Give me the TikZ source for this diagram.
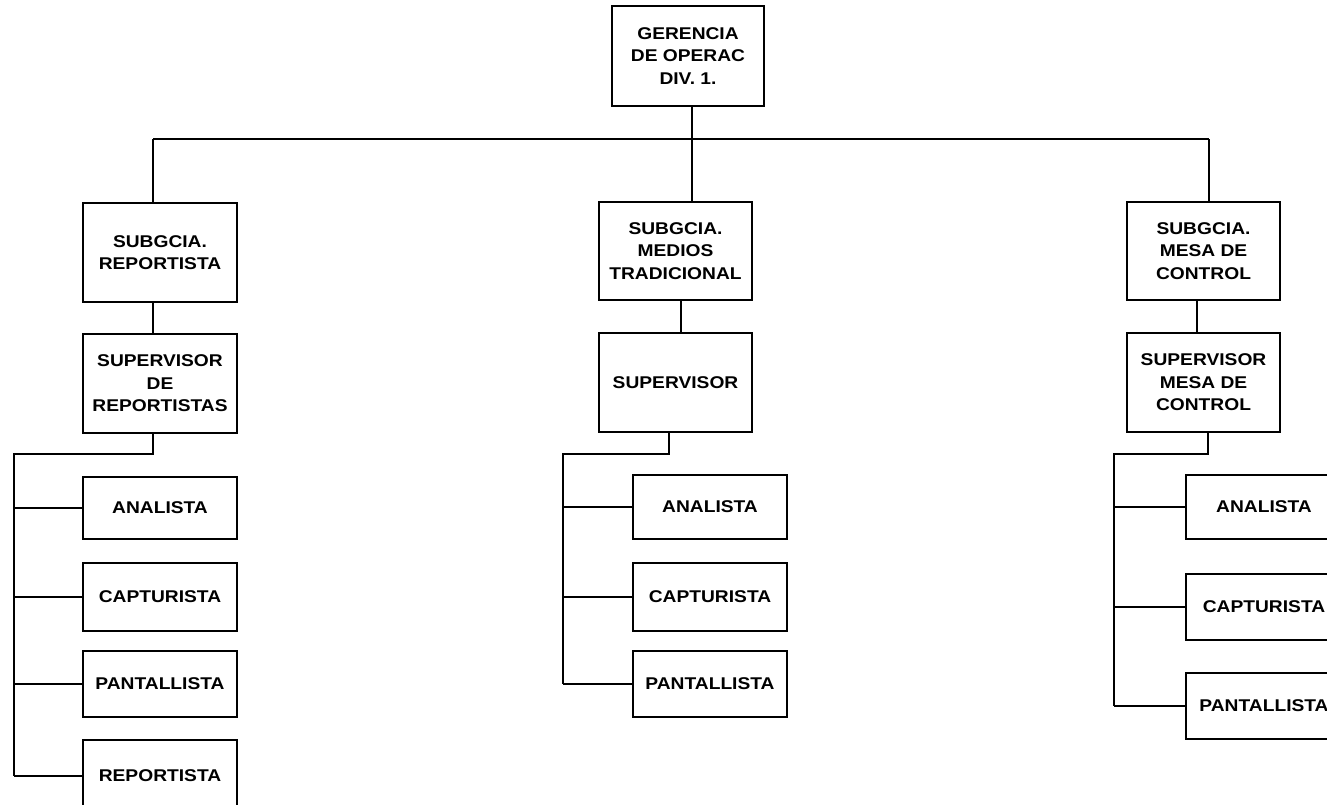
\documentclass[tikz,border=0pt]{standalone}
\usepackage{fontspec}
\setmainfont{Liberation Sans}[FakeStretch=1.13]
\begin{document}
\begin{tikzpicture}[x=1pt,y=-1pt,
  box/.style={draw,line width=1.6pt,align=center,inner sep=0pt,
    font=\fontsize{17}{22.5}\selectfont\bfseries},
  wire/.style={line width=1.6pt}]
\useasboundingbox (0,0) rectangle (1327,804);
\clip (0,0) rectangle (1327,804);
% top
\node[box,minimum width=152pt,minimum height=100pt] (g) at (688,56) {GERENCIA\\DE OPERAC\\DIV. 1.};
% level 2
\node[box,minimum width=154pt,minimum height=99pt] (s1) at (160,252.5) {SUBGCIA.\\REPORTISTA};
\node[box,minimum width=153pt,minimum height=98pt] (s2) at (675.5,251) {SUBGCIA.\\MEDIOS\\TRADICIONAL};
\node[box,minimum width=153pt,minimum height=98pt] (s3) at (1203.5,251) {SUBGCIA.\\MESA DE\\CONTROL};
% level 3
\node[box,minimum width=154pt,minimum height=99pt] (p1) at (160,383.5) {SUPERVISOR\\DE\\REPORTISTAS};
\node[box,minimum width=153pt,minimum height=99pt] (p2) at (675.5,382.5) {SUPERVISOR};
\node[box,minimum width=153pt,minimum height=99pt] (p3) at (1203.5,382.5) {SUPERVISOR\\MESA DE\\CONTROL};
% leaves left
\node[box,minimum width=154pt,minimum height=62pt] (a1) at (160,508) {ANALISTA};
\node[box,minimum width=154pt,minimum height=68pt] (c1) at (160,597) {CAPTURISTA};
\node[box,minimum width=154pt,minimum height=66pt] (t1) at (160,684) {PANTALLISTA};
\node[box,minimum width=154pt,minimum height=72pt] (r1) at (160,776) {REPORTISTA};
% leaves middle
\node[box,minimum width=154pt,minimum height=64pt] (a2) at (710,507) {ANALISTA};
\node[box,minimum width=154pt,minimum height=68pt] (c2) at (710,597) {CAPTURISTA};
\node[box,minimum width=154pt,minimum height=66pt] (t2) at (710,684) {PANTALLISTA};
% leaves right
\node[box,minimum width=156pt,minimum height=64pt] (a3) at (1264,507) {ANALISTA};
\node[box,minimum width=156pt,minimum height=66pt] (c3) at (1264,607) {CAPTURISTA};
\node[box,minimum width=156pt,minimum height=66pt] (t3) at (1264,706) {PANTALLISTA};
% bus
\coordinate (b1) at (153,139);
\coordinate (b2) at (692,139);
\coordinate (b3) at (1209,139);
\draw[wire] (g.south -| b2) -- (b2);
\draw[wire] (b1) -- (b3);
\draw[wire] (b1) -- (b1 |- s1.north);
\draw[wire] (b2) -- (b2 |- s2.north);
\draw[wire] (b3) -- (b3 |- s3.north);
% level 2 to 3
\draw[wire] ([xshift=-7pt]s1.south) -- ([xshift=-7pt]p1.north);
\draw[wire] ([xshift=5.5pt]s2.south) -- ([xshift=5.5pt]p2.north);
\draw[wire] ([xshift=-6.5pt]s3.south) -- ([xshift=-6.5pt]p3.north);
% left branch
\coordinate (l1) at (14,454);
\draw[wire] ([xshift=-7pt]p1.south) |- (l1) -- (l1 |- r1.west);
\draw[wire] (l1 |- a1.west) -- (a1.west);
\draw[wire] (l1 |- c1.west) -- (c1.west);
\draw[wire] (l1 |- t1.west) -- (t1.west);
\draw[wire] (l1 |- r1.west) -- (r1.west);
% middle branch
\coordinate (l2) at (563,454);
\draw[wire] ([xshift=-6.5pt]p2.south) |- (l2) -- (l2 |- t2.west);
\draw[wire] (l2 |- a2.west) -- (a2.west);
\draw[wire] (l2 |- c2.west) -- (c2.west);
\draw[wire] (l2 |- t2.west) -- (t2.west);
% right branch
\coordinate (l3) at (1114,454);
\draw[wire] ([xshift=4.5pt]p3.south) |- (l3) -- (l3 |- t3.west);
\draw[wire] (l3 |- a3.west) -- (a3.west);
\draw[wire] (l3 |- c3.west) -- (c3.west);
\draw[wire] (l3 |- t3.west) -- (t3.west);
\end{tikzpicture}
\end{document}
